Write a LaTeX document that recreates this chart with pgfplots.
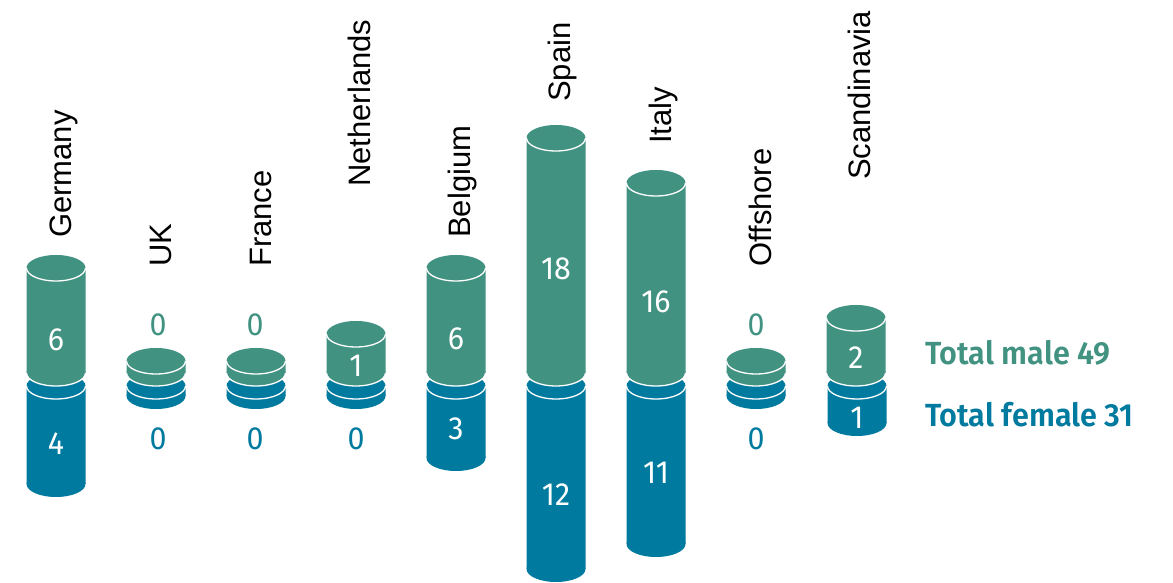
\documentclass[border=0pt]{standalone}
\usepackage{pgfplots}
\usepackage{pgfplotstable}
\usepackage{fontspec}
\pgfplotsset{compat=1.18}
\setmainfont{Liberation Sans}
\newfontfamily\numfont[FakeStretch=0.95]{Fira Sans}
\newfontfamily\legfont[FakeStretch=0.955]{Fira Sans SemiBold}
\definecolor{mgreen}{RGB}{66,146,130}
\definecolor{fblue}{RGB}{0,122,158}
\pgfdeclareplotmark{cylend}{%
  \pgfpathellipse{\pgfpointorigin}{\pgfqpoint{29.5pt}{0pt}}{\pgfqpoint{0pt}{13pt}}%
  \pgfusepathqfill}
\pgfdeclareplotmark{cyltop}{%
  \pgfpathellipse{\pgfpointorigin}{\pgfqpoint{29.5pt}{0pt}}{\pgfqpoint{0pt}{13pt}}%
  \pgfusepathqfill
  \pgfsetstrokecolor{white}\pgfsetlinewidth{1.3pt}%
  \pgfpathmoveto{\pgfqpoint{-29.5pt}{0pt}}%
  \pgfpatharc{180}{360}{29.5pt and 13pt}%
  \pgfusepathqstroke}
% heights in picture units; labels carry the headcounts
\pgfplotstableread{
x   h
56  105
156 12
256 12
356 39
456 105
556 235
656 190
756 12
856 55
}\maletable
\pgfplotstableread{
x   h
56  -98
156 -10
256 -10
356 -10
456 -72
556 -183
656 -158
756 -10
857 -37
}\femaletable
\pgfplotstableread{
x   y    label
56  33   6
356 7    1
456 34   6
556 104  18
656 71   16
856 15   2
56  -71  4
456 -56  3
556 -122 12
656 -100 11
857 -45  1
}\innerlabels
\pgfplotstableread{
x   y    label
158 48   0
255 48   0
756 48   0
}\malezero
\pgfplotstableread{
x   y    label
158 -66  0
255 -66  0
356 -66  0
756 -66  0
}\femalezero
\pgfplotstableread{
x   y    label
71  135  Germany
171 106  UK
271 106  France
370 186  Netherlands
470 135  Belgium
570 271  Spain
671 229  Italy
771 106  Offshore
870 193  Scandinavia
}\countrylabels
\pgfplotsset{base/.style={
  scale only axis, width=1173pt, height=583pt,
  xmin=0, xmax=1173, hide axis, clip=false,
  anchor=south west, at={(0pt,0pt)}},
  bars/.style={ybar, bar width=59pt, bar shift=0pt, draw=none, fill=#1},
  lab/.style={only marks, mark=none, point meta=explicit symbolic, nodes near coords,
    nodes near coords style={anchor=center, inner sep=0pt, text=#1,
      font=\numfont\fontsize{32}{34}\selectfont}}
}
\begin{document}
\begin{tikzpicture}
\useasboundingbox (0pt,0pt) rectangle (1173pt,583pt);
% female layer: zero level at picture row 386
\begin{axis}[base, ymin=-197, ymax=386]
\addplot[bars=fblue] table[x=x,y=h] {\femaletable};
\addplot[only marks, mark=cylend, color=fblue] table[x=x,y=h] {\femaletable};
\addplot[only marks, mark=cyltop, color=fblue] table[x=x,y expr=0] {\femaletable};
\end{axis}
% male layer: zero level at picture row 373
\begin{axis}[base, ymin=-210, ymax=373]
\addplot[only marks, mark=cyltop, color=mgreen] table[x=x,y expr=0] {\maletable};
\addplot[bars=mgreen] table[x=x,y=h] {\maletable};
\addplot[only marks, mark=cyltop, color=mgreen] table[x=x,y=h] {\maletable};
\addplot[lab=white] table[x=x,y=y,meta=label] {\innerlabels};
\addplot[lab=mgreen] table[x=x,y=y,meta=label] {\malezero};
\addplot[lab=fblue] table[x=x,y=y,meta=label] {\femalezero};
\addplot[only marks, mark=none, point meta=explicit symbolic, nodes near coords,
  nodes near coords style={rotate=90, anchor=base west, inner sep=0pt, text=black,
  font=\fontsize{31}{34}\selectfont}] table[x=x,y=y,meta=label] {\countrylabels};
\node[anchor=west, inner sep=0pt, text=mgreen, font=\legfont\fontsize{32}{34}\selectfont] at (axis cs:925,20) {Total male 49};
\node[anchor=west, inner sep=0pt, text=fblue, font=\legfont\fontsize{32}{34}\selectfont] at (axis cs:925,-42) {Total female 31};
\end{axis}
\end{tikzpicture}
\end{document}
